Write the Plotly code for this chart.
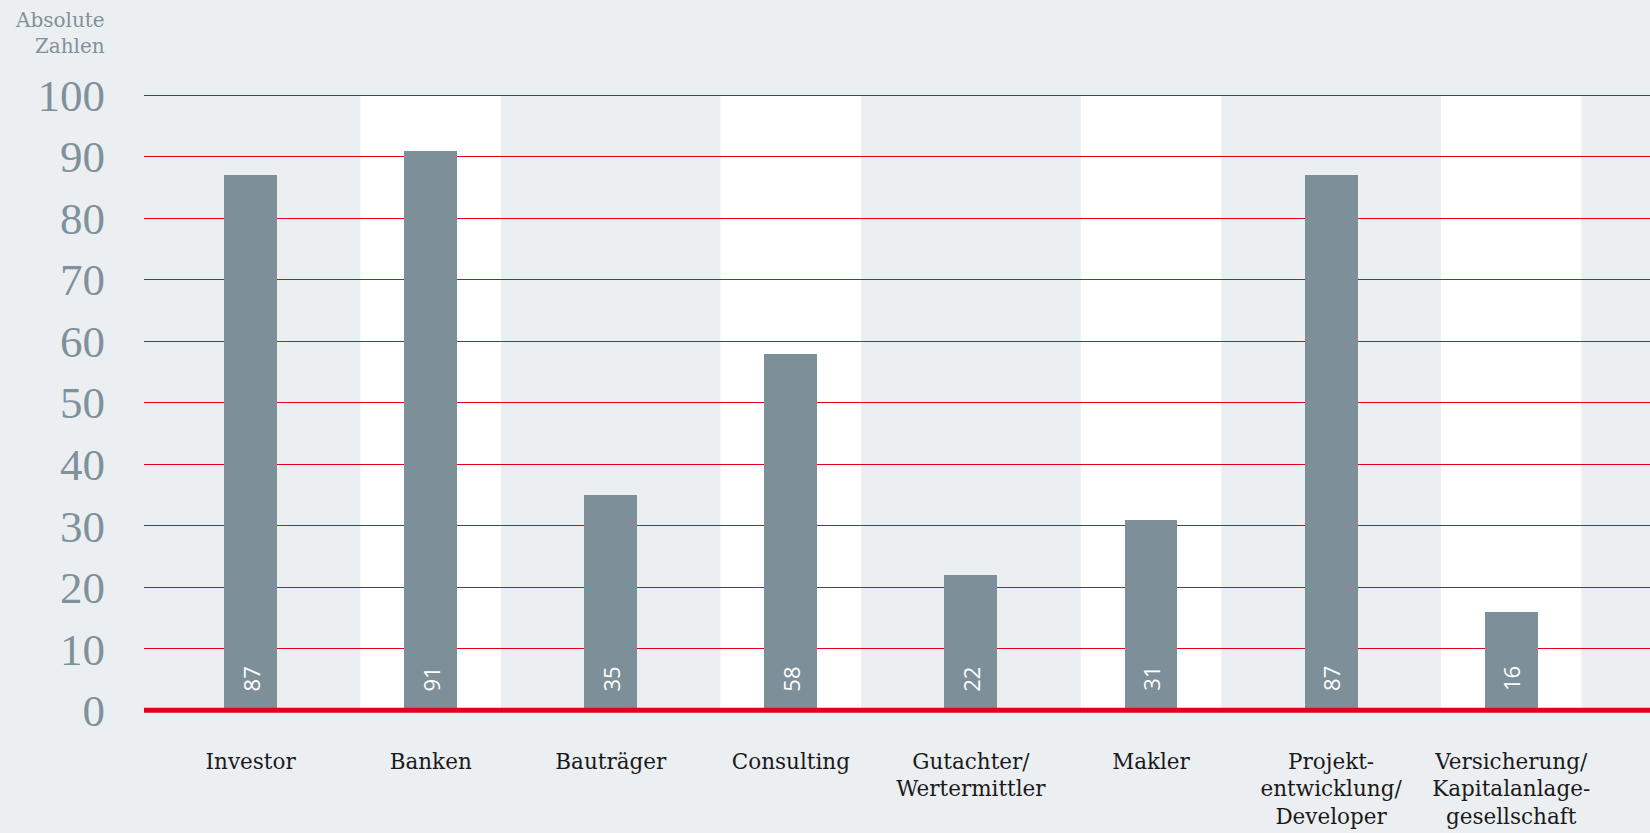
import plotly.graph_objects as go

categories = ["Investor", "Banken", "Bauträger", "Consulting",
              "Gutachter/<br>Wertermittler", "Makler",
              "Projekt-<br>entwicklung/<br>Developer",
              "Versicherung/<br>Kapitalanlage-<br>gesellschaft"]
values = [87, 91, 35, 58, 22, 31, 87, 16]
y_ticks = [0, 10, 20, 30, 40, 50, 60, 70, 80, 90, 100]
y_title = "Absolute<br>Zahlen"

BG = "#ECEFF2"
BAR = "#7D9099"
RED = "#E2001A"
GREY = "#7F929B"

fig = go.Figure()
fig.add_trace(go.Bar(x=categories, y=values, width=0.294,
                     marker=dict(color=BAR, line=dict(width=0)),
                     hoverinfo="x+y"))

shapes = []
for i in range(1, len(categories), 2):
    shapes.append(dict(type="rect", xref="x", yref="y", x0=i - 0.39, x1=i + 0.39,
                       y0=0, y1=100, fillcolor="white", line=dict(width=0), layer="below"))
shapes.append(dict(type="line", xref="paper", yref="y", x0=0, x1=1, y0=0, y1=0,
                   line=dict(color=RED, width=5), layer="above"))

annotations = []
for c, v in zip(categories, values):
    annotations.append(dict(x=c, y=0, xref="x", yref="y", text=str(v), showarrow=False,
                            textangle=-90, yanchor="bottom", xanchor="center", yshift=17,
                            font=dict(family="Open Sans", size=22, color="white")))
annotations.append(dict(x=0, y=1, xref="paper", yref="paper", text=y_title, showarrow=False,
                        xanchor="right", yanchor="top", align="right", xshift=-37, yshift=83,
                        font=dict(family="DejaVu Serif", size=20, color=GREY)))

fig.update_layout(
    width=1650, height=833,
    margin=dict(l=144, r=0, t=89, b=119, pad=0),
    paper_bgcolor=BG, plot_bgcolor=BG,
    showlegend=False,
    shapes=shapes, annotations=annotations,
    bargap=0,
    xaxis=dict(range=[-0.592, 7.771], showgrid=False, zeroline=False, showline=False,
               ticks="", tickfont=dict(family="DejaVu Serif", size=21.5, color="#1A1A1A"),
               ticklabelstandoff=32, fixedrange=True),
    yaxis=dict(range=[-0.6, 101], tickvals=y_ticks, showgrid=True, gridcolor=RED, gridwidth=1.2,
               zeroline=False, showline=False, ticks="",
               tickfont=dict(family="Liberation Serif", size=45, color=GREY),
               ticklabelstandoff=38, fixedrange=True),
)

fig.write_html("out.html", config={"displayModeBar": False},
               post_script="document.body.style.margin='0';document.body.style.background='%s';" % BG)
